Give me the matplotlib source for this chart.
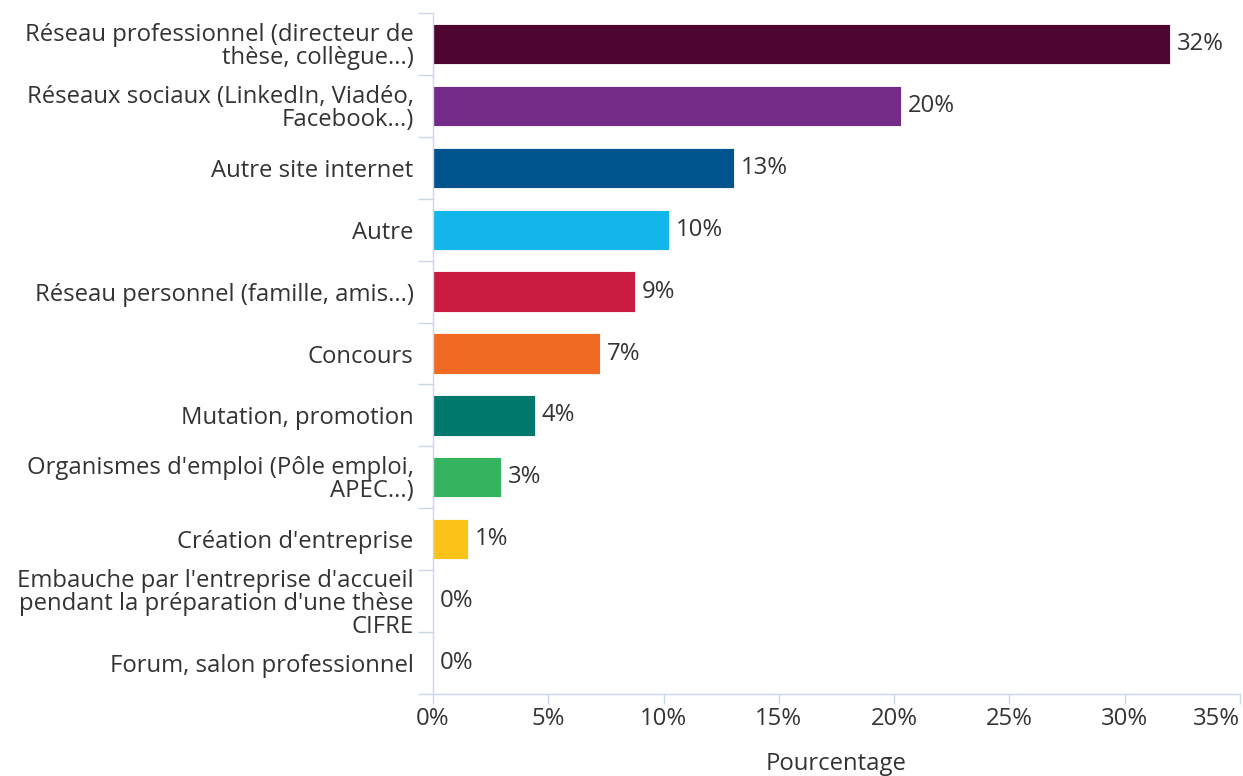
import numpy as np
import matplotlib.pyplot as plt
from matplotlib.ticker import FixedLocator, FuncFormatter

# categories and values (percent)
categories = [
    "Réseau professionnel (directeur de\nthèse, collègue...)",
    "Réseaux sociaux (LinkedIn, Viadéo,\nFacebook...)",
    "Autre site internet",
    "Autre",
    "Réseau personnel (famille, amis...)",
    "Concours",
    "Mutation, promotion",
    "Organismes d'emploi (Pôle emploi,\nAPEC...)",
    "Création d'entreprise",
    "Embauche par l'entreprise d'accueil\npendant la préparation d'une thèse\nCIFRE",
    "Forum, salon professionnel",
]
values = [31.96, 20.3, 13.05, 10.25, 8.75, 7.25, 4.4, 2.95, 1.5, 0.0, 0.0]
value_labels = ['32%', '20%', '13%', '10%', '9%', '7%', '4%', '3%', '1%', '0%', '0%']
colors = ['#4e0530', '#732a88', '#00548e', '#12b6e9', '#c91c40',
          '#f06a23', '#00796c', '#35b45f', '#fbc318', '#999999', '#999999']

plt.rcParams['font.family'] = ['Open Sans', 'DejaVu Sans']
axis_col = '#ccd6eb'
text_col = '#333333'
fs = 17.2

fig = plt.figure(figsize=(12.43, 7.76), dpi=100)
ax = fig.add_axes([0.3484, 0.1057, 0.6492, 0.8775])

y = np.arange(len(categories))
ax.barh(y, values, height=0.65, color=colors, edgecolor='white', linewidth=0.6)

for yi, v, lab in zip(y, values, value_labels):
    ax.text(v + 0.3, yi, lab, va='center', ha='left', fontsize=fs, color=text_col)

ax.set_xlim(0, 35)
ax.set_ylim(len(categories) - 0.5, -0.5)

ax.set_yticks(y)
ax.set_yticklabels(categories, fontsize=fs, color=text_col, linespacing=0.95)
ax.yaxis.set_minor_locator(FixedLocator(np.arange(len(categories) + 1) - 0.5))
ax.tick_params(axis='y', which='major', length=0, pad=14)
ax.tick_params(axis='y', which='minor', length=10.5, width=1, color=axis_col)

ax.set_xticks(np.arange(0, 36, 5))
ax.xaxis.set_major_formatter(FuncFormatter(lambda v, p: '%d%%' % v))
ax.tick_params(axis='x', length=7.5, width=1, color=axis_col, labelsize=fs,
               labelcolor=text_col, pad=2)
ax.get_xticklabels()[-1].set_horizontalalignment('right')
ax.set_xlabel('Pourcentage', fontsize=fs, color=text_col, labelpad=15)

for s in ['top', 'right']:
    ax.spines[s].set_visible(False)
for s in ['left', 'bottom']:
    ax.spines[s].set_color(axis_col)
    ax.spines[s].set_linewidth(1)

plt.savefig('out.png', dpi=100)
